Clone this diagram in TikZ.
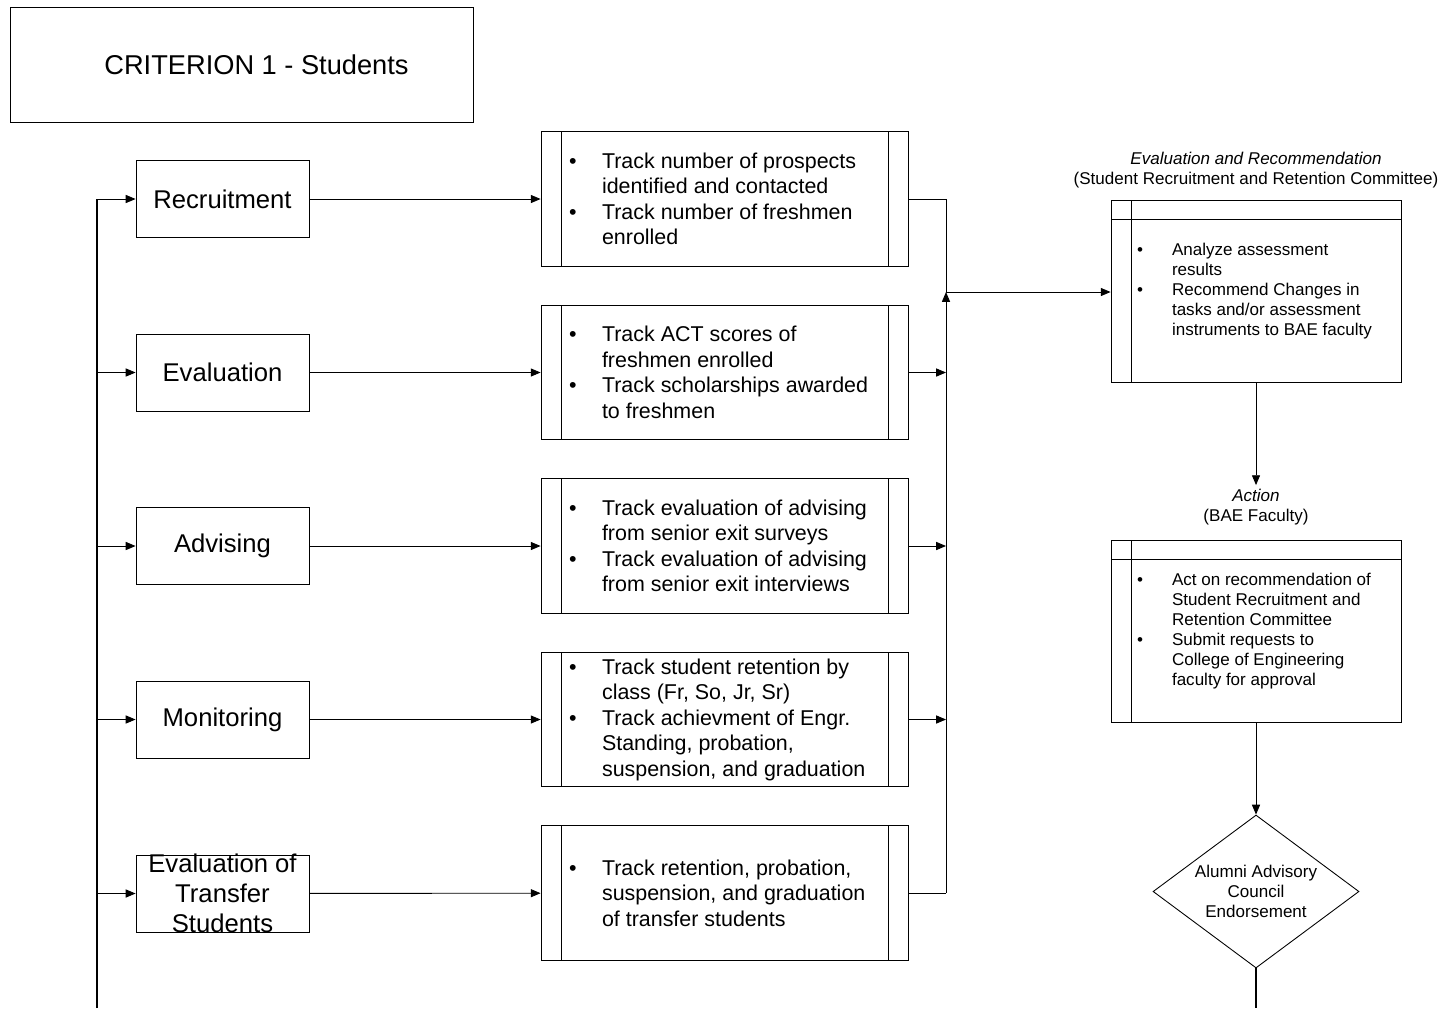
\documentclass[tikz,border=0pt]{standalone}
\usepackage{fontspec}
\setmainfont{Liberation Sans}
\usetikzlibrary{shapes.geometric, arrows.meta, positioning}

% bullet and hanging indent for the task lists
\newcommand{\bitem}[1][0.66cm]{\makebox[#1][l]{\textbullet}}
\newcommand{\bskip}[1][0.66cm]{\hspace*{#1}}

\begin{document}
\begin{tikzpicture}[x=0.02cm, y=-0.02cm, line width=0.5pt,
    >={Triangle[length=5.6pt, width=4.6pt]},
    stagefont/.style={font=\fontsize{14.6}{17}\selectfont, align=center},
    stagebox/.style={rectangle, draw, stagefont, minimum width=3.46cm, minimum height=1.54cm, inner sep=0pt},
    taskbox/.style={rectangle, draw, minimum width=7.34cm, minimum height=2.69cm,
        path picture={
            \draw ([xshift=0.4cm]path picture bounding box.north west) -- ([xshift=0.4cm]path picture bounding box.south west);
            \draw ([xshift=-0.4cm]path picture bounding box.north east) -- ([xshift=-0.4cm]path picture bounding box.south east);
        }},
    tasklist/.style={inner sep=0pt, align=left, font=\fontsize{12.2}{14.5}\selectfont},
    lanebox/.style={rectangle, draw, minimum width=5.8cm, minimum height=3.64cm,
        path picture={
            \draw ([yshift=-0.38cm]path picture bounding box.north west) -- ([yshift=-0.38cm]path picture bounding box.north east);
            \draw ([xshift=0.4cm]path picture bounding box.north west) -- ([xshift=0.4cm]path picture bounding box.south west);
        }},
    lanelist/.style={inner sep=0pt, align=left, font=\fontsize{9.7}{11.4}\selectfont},
    lanehead/.style={inner sep=2pt, align=center, font=\fontsize{9.7}{11.4}\selectfont},
    loopline/.style={line width=1pt}]

    \useasboundingbox (0,0) rectangle (1442,1008);

    % TITLE
    \node (Title) [rectangle, draw, minimum width=9.26cm, minimum height=2.3cm] at (241.5,64.5) {};
    \node (TitleText) [font=\fontsize{15.5}{18}\selectfont] at (256.5,64.5) {CRITERION 1 - Students};

    % LEFT: STAGES
    \node (Recruit) [stagebox] at (222.5,199) {Recruitment};
    \node (Eval) [stagebox] at (222.5,372.5) {Evaluation};
    \node (Advise) [stagebox] at (222.5,546) {Advising};
    \node (Monitor) [stagebox] at (222.5,719.5) {Monitoring};
    \node (Transfer) [stagebox] at (222.5,893.5) {};
    \node (TransferText) [stagefont, inner sep=0pt] at (Transfer) {Evaluation of\\Transfer\\Students};

    % MIDDLE: TRACKING TASKS
    \node (RecruitTask) [taskbox] at (724.5,199) {};
    \node (RecruitList) [tasklist, right=0.56cm of RecruitTask.west] {\bitem Track number of prospects\\ \bskip identified and contacted\\ \bitem Track number of freshmen\\ \bskip enrolled};
    \node (EvalTask) [taskbox] at (724.5,372.5) {};
    \node (EvalList) [tasklist, right=0.56cm of EvalTask.west] {\bitem Track ACT scores of\\ \bskip freshmen enrolled\\ \bitem Track scholarships awarded\\ \bskip to freshmen};
    \node (AdviseTask) [taskbox] at (724.5,546) {};
    \node (AdviseList) [tasklist, right=0.56cm of AdviseTask.west] {\bitem Track evaluation of advising\\ \bskip from senior exit surveys\\ \bitem Track evaluation of advising\\ \bskip from senior exit interviews};
    \node (MonitorTask) [taskbox] at (724.5,719.5) {};
    \node (MonitorList) [tasklist, right=0.56cm of MonitorTask.west] {\bitem Track student retention by\\ \bskip class (Fr, So, Jr, Sr)\\ \bitem Track achievment of Engr.\\ \bskip Standing, probation,\\ \bskip suspension, and graduation};
    \node (TransferTask) [taskbox] at (724.5,893) {};
    \node (TransferList) [tasklist, right=0.56cm of TransferTask.west] {\bitem Track retention, probation,\\ \bskip suspension, and graduation\\ \bskip of transfer students};

    % RIGHT: REVIEW CHAIN
    \node (EvalHead) [lanehead] at (1256,170) {\textit{Evaluation and Recommendation}\\(Student Recruitment and Retention Committee)};
    \node (Analysis) [lanebox] at (1256,291) {};
    \node (AnalysisList) [lanelist, right=0.52cm of Analysis.west] {\bitem[0.7cm]Analyze assessment\\ \bskip[0.7cm]results\\ \bitem[0.7cm]Recommend Changes in\\ \bskip[0.7cm]tasks and/or assessment\\ \bskip[0.7cm]instruments to BAE faculty};
    \node (ActHead) [lanehead] at (1256,507) {\textit{Action}\\(BAE Faculty)};
    \node (Faculty) [lanebox] at (1256,631.5) {};
    \node (FacultyList) [lanelist, right=0.52cm of Faculty.west] {\bitem[0.7cm]Act on recommendation of\\ \bskip[0.7cm]Student Recruitment and\\ \bskip[0.7cm]Retention Committee\\ \bitem[0.7cm]Submit requests to\\ \bskip[0.7cm]College of Engineering\\ \bskip[0.7cm]faculty for approval};
    \node (Endorse) [diamond, draw, aspect=1.346, minimum width=4.12cm, minimum height=3.06cm, inner sep=0pt, align=center, font=\fontsize{9.7}{11.4}\selectfont] at (1256,891.5) {Alumni Advisory\\Council\\Endorsement};

    % feedback loop into the stages
    \coordinate (LoopBottom) at (97,1008);
    \draw[loopline] (LoopBottom) -- (LoopBottom |- Recruit);
    \foreach \stage in {Recruit, Eval, Advise, Monitor, Transfer}
        \draw[->] (LoopBottom |- \stage) -- (\stage);

    % stages to tasks
    \foreach \stage in {Recruit, Eval, Advise, Monitor, Transfer}
        \draw[->] (\stage) -- (\stage Task);

    % tasks merge into the committee
    \coordinate (Merge) at (946,292);
    \draw (RecruitTask.east) -| (Merge);
    \draw (TransferTask.east) -- (Merge |- TransferTask);
    \draw[->] (Merge |- TransferTask) -- (Merge);
    \foreach \stage in {Eval, Advise, Monitor}
        \draw[->] (\stage Task.east) -- (Merge |- \stage Task);
    \draw[->] (Merge) -- (Merge -| Analysis.west);

    % committee to faculty to council
    \draw[->] (Analysis) -- (ActHead);
    \draw[->] (Faculty) -- (Endorse);
    \draw[loopline] (Endorse.south) -- (Endorse.south |- LoopBottom);
\end{tikzpicture}
\end{document}
